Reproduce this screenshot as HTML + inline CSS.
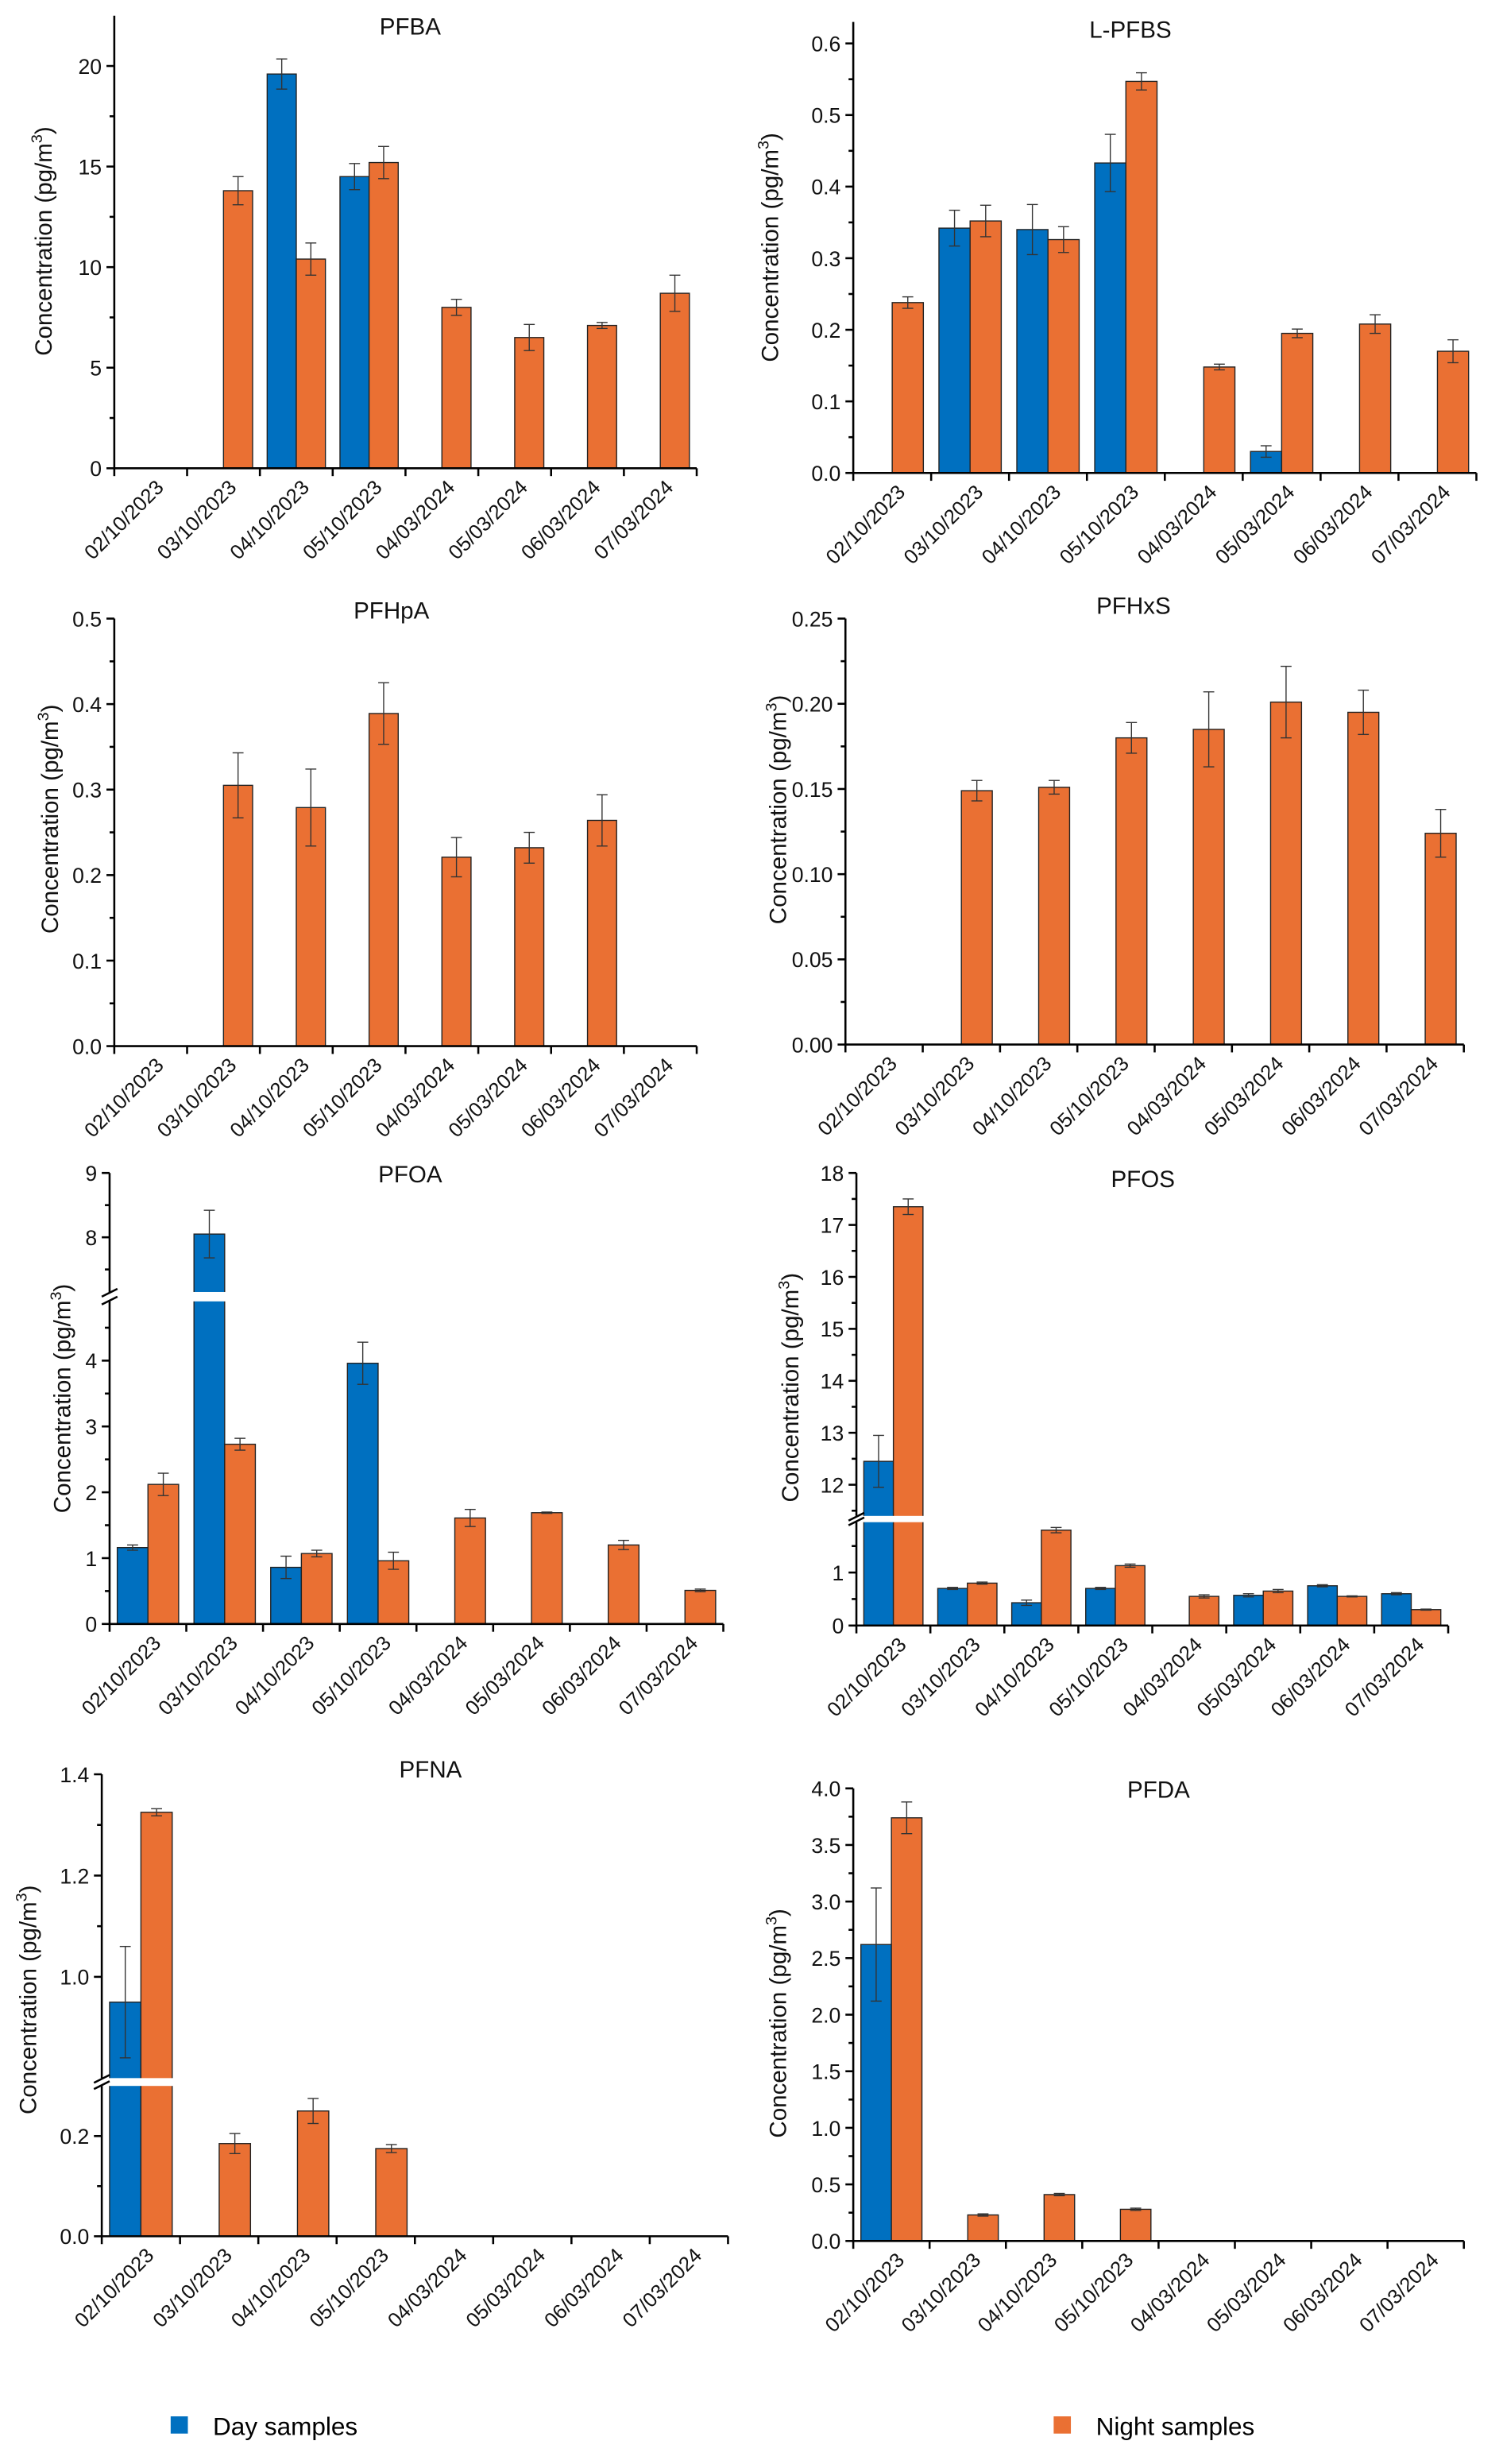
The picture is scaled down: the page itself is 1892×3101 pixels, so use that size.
<!DOCTYPE html>
<html><head><meta charset="utf-8"><style>
html,body{margin:0;padding:0;background:#fff;}
svg{display:block;font-family:"Liberation Sans",Arial,sans-serif;}
</style></head><body>
<svg id="fig" width="1892" height="3101" viewBox="0 0 960 1573.4" xmlns="http://www.w3.org/2000/svg">
<g>
<rect x="109" y="1543" width="11" height="11" fill="#0070c0"/>
<text x="136" y="1555" font-size="16">Day samples</text>
<rect x="673" y="1543" width="11" height="11" fill="#ea7033"/>
<text x="700" y="1555" font-size="16">Night samples</text>
</g>
</svg>
<script>
const categories = ["02/10/2023","03/10/2023","04/10/2023","05/10/2023","04/03/2024","05/03/2024","06/03/2024","07/03/2024"];

const pfbaDay = [0,0,19.6,14.5,0,0,0,0];
const pfbaDayErr = [0,0,0.75,0.65,0,0,0,0];
const pfbaNight = [0,13.8,10.4,15.2,8.0,6.5,7.1,8.7];
const pfbaNightErr = [0,0.7,0.8,0.8,0.4,0.65,0.15,0.9];
const pfbaTicks = [0,5,10,15,20];

const pfbsDay = [0,0.342,0.340,0.433,0,0.030,0,0];
const pfbsDayErr = [0,0.025,0.035,0.04,0,0.008,0,0];
const pfbsNight = [0.238,0.352,0.326,0.547,0.148,0.195,0.208,0.170];
const pfbsNightErr = [0.008,0.022,0.018,0.012,0.004,0.006,0.013,0.016];
const pfbsTicks = [0,0.1,0.2,0.3,0.4,0.5,0.6];

const pfhpaDay = [0,0,0,0,0,0,0,0];
const pfhpaDayErr = [0,0,0,0,0,0,0,0];
const pfhpaNight = [0,0.305,0.279,0.389,0.221,0.232,0.264,0];
const pfhpaNightErr = [0,0.038,0.045,0.036,0.023,0.018,0.03,0];
const pfhpaTicks = [0,0.1,0.2,0.3,0.4,0.5];

const pfhxsDay = [0,0,0,0,0,0,0,0];
const pfhxsDayErr = [0,0,0,0,0,0,0,0];
const pfhxsNight = [0,0.149,0.151,0.180,0.185,0.201,0.195,0.124];
const pfhxsNightErr = [0,0.006,0.004,0.009,0.022,0.021,0.013,0.014];
const pfhxsTicks = [0,0.05,0.10,0.15,0.20,0.25];

const pfoaDay = [1.16,8.05,0.86,3.96,0,0,0,0];
const pfoaDayErr = [0.04,0.37,0.17,0.32,0,0,0,0];
const pfoaNight = [2.12,2.73,1.07,0.96,1.61,1.69,1.20,0.51];
const pfoaNightErr = [0.17,0.09,0.05,0.13,0.13,0.01,0.07,0.02];
const pfoaTicks = [0,1,2,3,4,8,9];

const pfosDay = [12.45,0.70,0.43,0.70,0,0.57,0.75,0.60];
const pfosDayErr = [0.5,0.02,0.05,0.02,0,0.03,0.02,0.02];
const pfosNight = [17.35,0.80,1.80,1.13,0.55,0.65,0.55,0.30];
const pfosNightErr = [0.15,0.02,0.05,0.03,0.03,0.03,0.01,0.01];
const pfosTicks = [0,1,12,13,14,15,16,17,18];

const pfnaDay = [0.95,0,0,0,0,0,0,0];
const pfnaDayErr = [0.11,0,0,0,0,0,0,0];
const pfnaNight = [1.325,0.185,0.25,0.175,0,0,0,0];
const pfnaNightErr = [0.007,0.02,0.025,0.008,0,0,0,0];
const pfnaTicks = [0,0.2,1.0,1.2,1.4];

const pfdaDay = [2.62,0,0,0,0,0,0,0];
const pfdaDayErr = [0.5,0,0,0,0,0,0,0];
const pfdaNight = [3.74,0.23,0.41,0.28,0,0,0,0];
const pfdaNightErr = [0.14,0.01,0.01,0.01,0,0,0,0];
const pfdaTicks = [0,0.5,1.0,1.5,2.0,2.5,3.0,3.5,4.0];

const NS = "http://www.w3.org/2000/svg";
const svg = document.getElementById('fig');
function mk(tag, attrs, parent){const e=document.createElementNS(NS,tag);for(const k in attrs)e.setAttribute(k,attrs[k]);(parent||svg).appendChild(e);return e;}

function chart(cfg){
  const g = mk('g',{});
  
  
  const segs = cfg.segs;
  function y(v){
    for(let i=0;i<segs.length;i++){const s=segs[i];
      if(v<=s.d1||i==segs.length-1){ if(v<s.d0) v=s.d0; return s.p0+(v-s.d0)/(s.d1-s.d0)*(s.p1-s.p0);} }
  }
  function yb(v){ // bar top with clamp into gap
    for(let i=0;i<segs.length;i++){const s=segs[i];
      if(v<=s.d1) return s.p0+(Math.max(v,s.d0)-s.d0)/(s.d1-s.d0)*(s.p1-s.p0);
      if(i<segs.length-1 && v<segs[i+1].d0) return s.p1; }
    const s=segs[segs.length-1]; return s.p0+(v-s.d0)/(s.d1-s.d0)*(s.p1-s.p0);
  }
  const n=categories.length, cw=(cfg.x1-cfg.x0)/n, bw=cw*0.4, base=segs[0].p0;
  function xc(i){return cfg.x0+cw*(i+0.5);}
  const series=[[cfg.day,cfg.dayErr,'#0070c0',-1,'day'],[cfg.night,cfg.nightErr,'#ea7033',0,'night']];
  series.forEach(s=>{
    s[0].forEach((v,i)=>{
      if(!v) return;
      const top=yb(v), x=xc(i)+s[3]*bw;
      const r=mk('rect',{x:x,y:top,width:bw,height:base-top,fill:s[2],stroke:'#222','stroke-width':0.7},g);
      
      
      const e=s[1][i];
      if(e){
        const eg=mk('g',{stroke:'#333','stroke-width':0.7},g);
        
        
        const cx=x+bw/2, a=yb(v+e), b=yb(v-e);
        mk('line',{x1:cx,x2:cx,y1:a,y2:b},eg);
        mk('line',{x1:cx-3.5,x2:cx+3.5,y1:a,y2:a},eg);
        mk('line',{x1:cx-3.5,x2:cx+3.5,y1:b,y2:b},eg);
      }
    });
  });
  // break band
  if(segs.length>1){
    const a=segs[0].p1, b=segs[1].p0;
    mk('rect',{x:cfg.x0-6,y:b,width:cfg.x1-cfg.x0+8,height:a-b,fill:'#fff'},g);
  }
  // axes
  const ax=mk('g',{stroke:'#000','stroke-width':1.3,fill:'none'},g);
  
  
  mk('line',{x1:cfg.x0,x2:cfg.x1,y1:base,y2:base},ax);
  segs.forEach(s=>mk('line',{x1:cfg.x0,x2:cfg.x0,y1:s.p0,y2:s.p1},ax));
  if(segs.length>1){
    const a=segs[0].p1,b=segs[1].p0;
    mk('line',{x1:cfg.x0-5,x2:cfg.x0+5,y1:a+2,y2:a-3},ax);
    mk('line',{x1:cfg.x0-5,x2:cfg.x0+5,y1:b+3,y2:b-2},ax);
  }
  for(let i=0;i<=n;i++){const x=cfg.x0+cw*i;mk('line',{x1:x,x2:x,y1:base,y2:base+5},ax);}
  // y ticks
  cfg.ticks.forEach((t,k)=>{
    const p=y(t);
    mk('line',{x1:cfg.x0-5,x2:cfg.x0,y1:p,y2:p},ax);
    const tx=mk('text',{x:cfg.x0-8,y:p+5,'font-size':13.5,'text-anchor':'end',fill:'#111',stroke:'none'},g);
    tx.textContent=t.toFixed(cfg.dec);
    
    
    const nt=cfg.ticks[k+1];
    if(nt!==undefined){const seg=segs.find(s=>t>=s.d0&&nt<=s.d1+1e-9);
      if(seg){const m=y((t+nt)/2);mk('line',{x1:cfg.x0-3,x2:cfg.x0,y1:m,y2:m},ax);}}
  });
  if(cfg.extraMinor) cfg.extraMinor.forEach(v=>{const m=y(v);mk('line',{x1:cfg.x0-3,x2:cfg.x0,y1:m,y2:m},ax);});
  // x labels
  categories.forEach((c,i)=>{
    const lx=xc(i)+9, ly=base+13;
    const t=mk('text',{x:lx,y:ly,'font-size':13,'text-anchor':'end',transform:`rotate(-45 ${lx} ${ly})`,fill:'#111'},g);
    t.textContent=c;
    
    
  });
  const ti=mk('text',{x:cfg.tx,y:cfg.ty,'font-size':15,'text-anchor':'middle',fill:'#111'},g);
  ti.textContent=cfg.title;
  
  
  const yt=mk('text',{x:0,y:0,'font-size':15,'text-anchor':'middle',fill:'#111',transform:`translate(${cfg.yx} ${cfg.yy}) rotate(-90)`},g);
  yt.innerHTML='Concentration (pg/m<tspan dy="-6" font-size="10">3</tspan><tspan dy="6">)</tspan>';
  
  
}

chart({key:'pfba',title:'PFBA',tx:262,ty:22,x0:73,x1:445,segs:[{d0:0,d1:22.5,p0:299,p1:10}],ticks:pfbaTicks,dec:0,day:pfbaDay,dayErr:pfbaDayErr,night:pfbaNight,nightErr:pfbaNightErr,yx:33,yy:154});
chart({key:'pfbs',title:'L-PFBS',tx:722,ty:24,x0:545,x1:943,segs:[{d0:0,d1:0.63,p0:302,p1:14}],ticks:pfbsTicks,dec:1,day:pfbsDay,dayErr:pfbsDayErr,night:pfbsNight,nightErr:pfbsNightErr,yx:497,yy:158});
chart({key:'pfhpa',title:'PFHpA',tx:250,ty:395,x0:73,x1:445,segs:[{d0:0,d1:0.5,p0:668,p1:395}],ticks:pfhpaTicks,dec:1,day:pfhpaDay,dayErr:pfhpaDayErr,night:pfhpaNight,nightErr:pfhpaNightErr,yx:37,yy:523});
chart({key:'pfhxs',title:'PFHxS',tx:724,ty:392,x0:540,x1:935,segs:[{d0:0,d1:0.25,p0:667,p1:395}],ticks:pfhxsTicks,dec:2,day:pfhxsDay,dayErr:pfhxsDayErr,night:pfhxsNight,nightErr:pfhxsNightErr,yx:502,yy:517});
chart({key:'pfoa',title:'PFOA',tx:262,ty:755,x0:70,x1:462,segs:[{d0:0,d1:4.9,p0:1037,p1:831},{d0:7.15,d1:9,p0:825,p1:749}],ticks:pfoaTicks,dec:0,extraMinor:[4.5,7.5],day:pfoaDay,dayErr:pfoaDayErr,night:pfoaNight,nightErr:pfoaNightErr,yx:45,yy:893});
chart({key:'pfos',title:'PFOS',tx:730,ty:758,x0:547,x1:925,segs:[{d0:0,d1:1.95,p0:1038,p1:972},{d0:11.4,d1:18,p0:968,p1:749}],ticks:pfosTicks,dec:0,extraMinor:[1.5,11.5],day:pfosDay,dayErr:pfosDayErr,night:pfosNight,nightErr:pfosNightErr,yx:510,yy:886});
chart({key:'pfna',title:'PFNA',tx:275,ty:1135,x0:65,x1:465,segs:[{d0:0,d1:0.3,p0:1428,p1:1332},{d0:0.8,d1:1.4,p0:1327,p1:1133}],ticks:pfnaTicks,dec:1,day:pfnaDay,dayErr:pfnaDayErr,night:pfnaNight,nightErr:pfnaNightErr,yx:23,yy:1277});
chart({key:'pfda',title:'PFDA',tx:740,ty:1148,x0:545,x1:935,segs:[{d0:0,d1:4.0,p0:1431,p1:1142}],ticks:pfdaTicks,dec:1,day:pfdaDay,dayErr:pfdaDayErr,night:pfdaNight,nightErr:pfdaNightErr,yx:502,yy:1292});
</script>
</body></html>
